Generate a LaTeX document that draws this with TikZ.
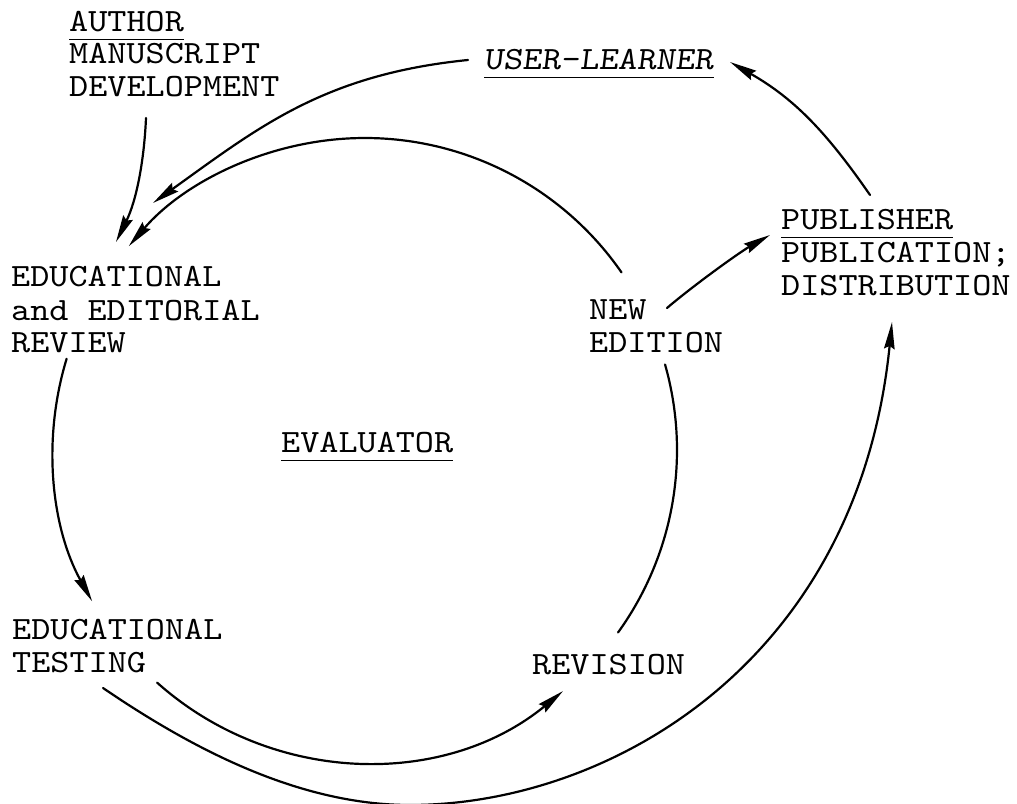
\documentclass[tikz,border=0pt]{standalone}
\usepackage{fontspec}
\newfontfamily\typewriter{lmmono10-regular.otf}[FakeStretch=1.12]
\newfontfamily\typewriterslant{lmmono10-regular.otf}[FakeStretch=1.12,FakeSlant=0.12]
\usetikzlibrary{arrows.meta,calc}
\begin{document}
\begin{tikzpicture}[x=1pt,y=1pt,
  lbl/.style={anchor=base west, inner sep=0pt, font=\typewriter\fontsize{32.5}{34}\selectfont},
  conn/.style={line width=2.2pt, line cap=round},
  arr/.style={conn, -{Stealth[length=27pt,width=10.5pt,inset=3pt]}},
  uline/.style={line width=1.8pt}]
\useasboundingbox (0,0) rectangle (1017,803);

% ---- labels ----
\node[lbl] (au1) at (69,771) {AUTHOR};
\node[lbl] (au2) at (69,739) {MANUSCRIPT};
\node[lbl] (au3) at (69,706) {DEVELOPMENT};

\node[lbl, font=\typewriterslant\fontsize{32.5}{34}\selectfont] (user) at (484,733) {USER-LEARNER};

\node[lbl] (pub1) at (781,573) {PUBLISHER};
\node[lbl] (pub2) at (781,540) {PUBLICATION;};
\node[lbl] (pub3) at (781,507) {DISTRIBUTION};

\node[lbl] (new1) at (589,483) {NEW};
\node[lbl] (new2) at (589,450) {EDITION};

\node[lbl] (rev1) at (11,516) {EDUCATIONAL};
\node[lbl] (rev2) at (11,482) {and EDITORIAL};
\node[lbl] (rev3) at (11,450) {REVIEW};

\node[lbl] (eval) at (281,350) {EVALUATOR};

\node[lbl] (tst1) at (12,163) {EDUCATIONAL};
\node[lbl] (tst2) at (12,130) {TESTING};

\node[lbl] (revn) at (532,128) {REVISION};

% ---- underlines ----
\foreach \n in {au1,user,pub1,eval}
  \draw[uline] ($(\n.base west)+(0,-7.5)$) -- ($(\n.base east)+(0,-7.5)$);

% ---- the evaluation cycle (one circle) ----
\coordinate (cc) at (365,353);
\coordinate (topS) at ($(cc)+(34.7:312pt)$);
\coordinate (lftS) at ($(cc)+(163:312pt)$);
\coordinate (rgtS) at ($(cc)+(15.9:312pt)$);
\coordinate (botS) at ($(cc)+(228.2:312pt)$);

\draw[arr]  (topS) arc[start angle=34.7,  end angle=139.2, radius=312pt];
\draw[arr]  (lftS) arc[start angle=163,   end angle=209,   radius=312pt];
\draw[arr]  (botS) arc[start angle=228.2, end angle=309.4, radius=312pt];
\draw[conn] (rgtS) arc[start angle=15.9,  end angle=-35.8, radius=312pt];

% ---- other connectors ----
\coordinate (auS) at (146,685);
\coordinate (auE) at (116,561);
\draw[arr] (auS) .. controls (144,640) and (136,601.5) .. (auE);

\coordinate (ulS) at (468,743);
\coordinate (ulE) at (153,600);
\draw[arr] (ulS) .. controls (323.7,728.5) and (258.3,675.4) .. (ulE);

\coordinate (pbS) at (870,608);
\coordinate (pbE) at (730,741);
\draw[arr] (pbS) .. controls (827,670) and (795,704) .. (pbE);

\coordinate (neS) at (667,495);
\coordinate (neE) at (770,568);
\draw[arr] (neS) .. controls (694,518) and (740,551) .. (neE);

\coordinate (otS) at (103,115);
\coordinate (otM) at (410,-2);
\coordinate (otE) at (892,481);
\draw[arr] (otS) .. controls (194,53) and (300,-2) .. (otM)
                 .. controls (610,-2) and (858,141) .. (otE);
\end{tikzpicture}
\end{document}
